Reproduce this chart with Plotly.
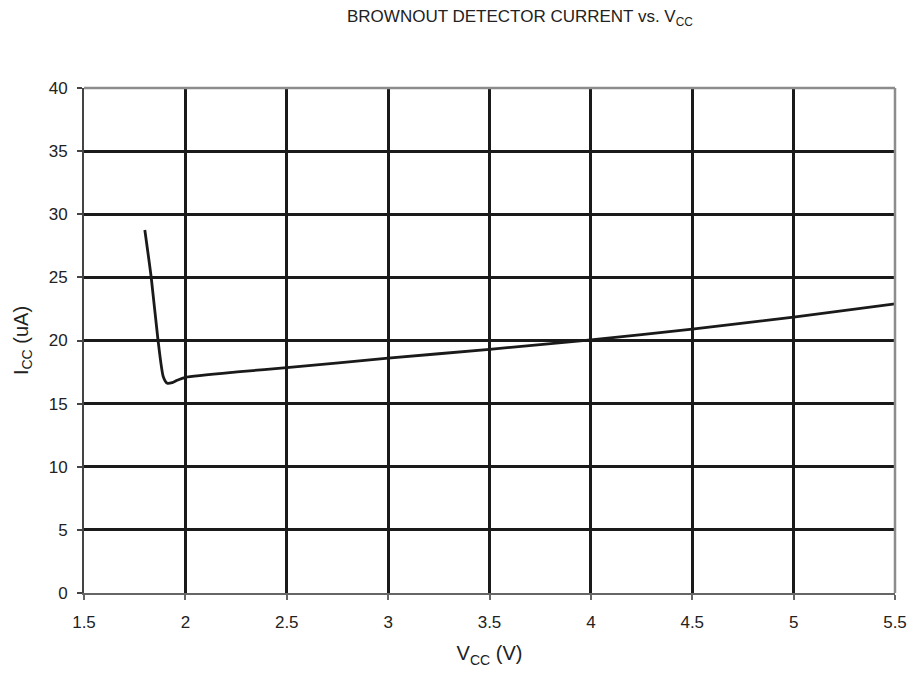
import plotly.graph_objects as go

vcc = [1.80, 1.832, 1.865, 1.891, 1.911, 1.935, 1.96, 2.0, 2.27, 2.5, 3.0, 3.5, 4.0, 4.5, 5.0, 5.5]
icc = [28.75, 24.93, 20.04, 17.13, 16.61, 16.66, 16.85, 17.08, 17.53, 17.85, 18.6, 19.3, 20.05, 20.9, 21.85, 22.9]

x_ticks = [1.5, 2, 2.5, 3, 3.5, 4, 4.5, 5, 5.5]
y_ticks = [0, 5, 10, 15, 20, 25, 30, 35, 40]

font = "Liberation Sans, Arial, sans-serif"

fig = go.Figure()
fig.add_trace(go.Scatter(x=vcc, y=icc, mode="lines",
                         line=dict(color="#1a1a1a", width=2.8, shape="spline", smoothing=0.6),
                         showlegend=False, hoverinfo="skip"))

fig.update_layout(
    width=911, height=665,
    margin=dict(l=75, r=21, t=80, b=80),
    paper_bgcolor="white", plot_bgcolor="white",
    font=dict(family=font, size=17, color="#222"),
    xaxis=dict(range=[1.5, 5.5], tickvals=x_ticks, ticktext=[str(v) for v in x_ticks],
               tickfont=dict(size=17, family=font, color="#222"), ticklabelstandoff=8,
               showgrid=True, gridcolor="#1a1a1a", gridwidth=2.5,
               showline=True, linecolor="#666", linewidth=2,
               ticks="outside", ticklen=5, tickcolor="#666", tickwidth=1.5,
               zeroline=False, fixedrange=True,
               title=dict(text="V<sub>CC</sub> (V)", font=dict(size=20, family=font, color="#222"), standoff=15)),
    yaxis=dict(range=[0, 40], tickvals=y_ticks,
               tickfont=dict(size=17, family=font, color="#222"), ticklabelstandoff=6,
               showgrid=True, gridcolor="#1a1a1a", gridwidth=2.5,
               showline=True, linecolor="#444", linewidth=2,
               ticks="outside", ticklen=5, tickcolor="#444", tickwidth=1.5,
               zeroline=False, fixedrange=True,
               title=dict(text="I<sub>CC</sub> (uA)", font=dict(size=20, family=font, color="#222"), standoff=15)),
    shapes=[
        dict(type="line", xref="paper", yref="paper", x0=0, x1=1, y0=1, y1=1,
             line=dict(color="#8c8c8c", width=2.5)),
        dict(type="line", xref="paper", yref="paper", x0=1, x1=1, y0=0, y1=1,
             line=dict(color="#8c8c8c", width=2.5)),
    ],
    annotations=[
        dict(text="BROWNOUT DETECTOR CURRENT vs. V<sub>CC</sub>", xref="paper", yref="paper",
             x=(521 - 83) / 815, y=1 + (88 - 18) / 505, xanchor="center", yanchor="middle",
             showarrow=False, font=dict(size=17, color="#222", family=font)),
    ],
)

fig.write_html("out.html")
